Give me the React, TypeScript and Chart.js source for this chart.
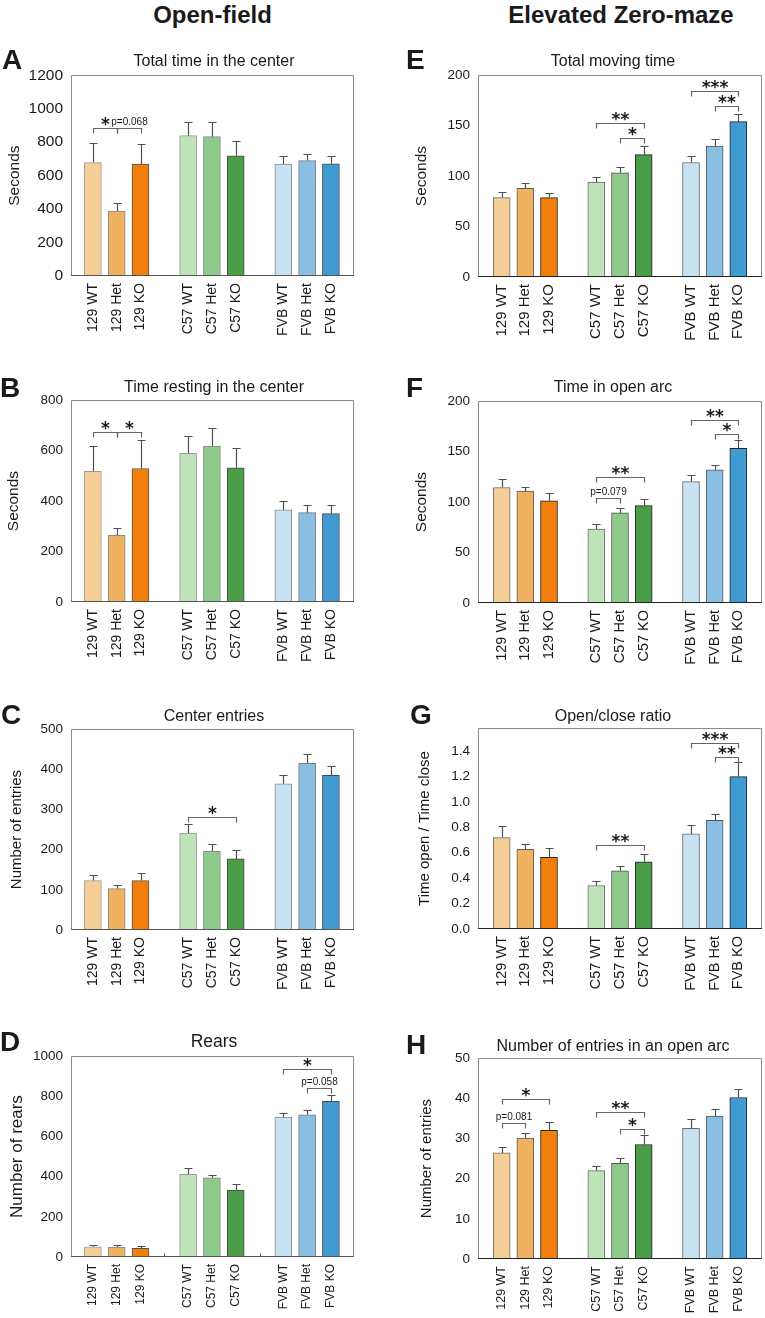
import React, { useEffect, useRef } from "react";
import { Chart, registerables } from "chart.js";
Chart.register(...registerables);

const FONT = "'Liberation Sans', Arial, Helvetica, sans-serif";
const STAR_FONT = "'DejaVu Sans', sans-serif";
const TEXT = "#1a1a1a";

// ---------- shared categories ----------
const CATEGORIES = ["129 WT", "129 Het", "129 KO", "C57 WT", "C57 Het", "C57 KO", "FVB WT", "FVB Het", "FVB KO"];
const SLOTS = [0, 1, 2, 4, 5, 6, 8, 9, 10];
const GAP_SLOTS = [3, 7];
const BAR_COLORS = ["#F5CD97", "#F0B160", "#F27F0C", "#BFE3B9", "#8DCA8B", "#4B9D48", "#C7E2F2", "#88BFE2", "#3F9BD1"];
const BAR_BORDERS_LEFT = ["#9a9a9a", "#8a8a8a", "#555555", "#9a9a9a", "#8a8a8a", "#4a4a4a", "#8a8a8a", "#7a7a7a", "#4a4a4a"];
const BAR_BORDERS_RIGHT = ["#6a6a6a", "#5a5a5a", "#222222", "#6a6a6a", "#555555", "#222222", "#6a6a6a", "#555555", "#222222"];

// ---------- Panel A: Total time in the center ----------
const A_MEAN = [678, 388, 669, 839, 833, 719, 669, 690, 671];
const A_ERR = [796, 437, 792, 922, 922, 810, 719, 731, 718];
const A_TICKS = [0, 200, 400, 600, 800, 1000, 1200];
const A_SIG = [
  { a: 0, b: 1, y: 882, t: "*" },
  { a: 1, b: 2, y: 882, t: "p=0.068" },
];

// ---------- Panel B: Time resting in the center ----------
const B_MEAN = [518, 264, 529, 589, 618, 532, 365, 354, 350];
const B_ERR = [618, 295, 642, 658, 691, 609, 401, 386, 386];
const B_TICKS = [0, 200, 400, 600, 800];
const B_SIG = [
  { a: 0, b: 1, y: 672, t: "*" },
  { a: 1, b: 2, y: 672, t: "*" },
];

// ---------- Panel C: Center entries ----------
const C_MEAN = [123, 103, 123, 241, 196, 177, 364, 415, 385];
const C_ERR = [138, 113, 142, 265, 214, 199, 387, 439, 408];
const C_TICKS = [0, 100, 200, 300, 400, 500];
const C_SIG = [{ a: 3, b: 5, y: 281, t: "*" }];

// ---------- Panel D: Rears ----------
const D_MEAN = [51, 50, 43, 412, 394, 333, 696, 708, 775];
const D_ERR = [62, 59, 54, 442, 410, 361, 715, 731, 806];
const D_TICKS = [0, 200, 400, 600, 800, 1000];
const D_SIG = [
  { a: 6, b: 8, y: 935, t: "*" },
  { a: 7, b: 8, y: 839, t: "p=0.058" },
];

// ---------- Panel E: Total moving time ----------
const E_MEAN = [78.7, 87.9, 78.7, 94.1, 103.2, 121.3, 113.4, 129.7, 153.9];
const E_ERR = [84.3, 92.8, 83.7, 98.7, 109.1, 129.7, 120.3, 136.6, 161.8];
const E_TICKS = [0, 50, 100, 150, 200];
const E_SIG = [
  { a: 3, b: 5, y: 152.6, t: "**" },
  { a: 4, b: 5, y: 137.3, t: "*" },
  { a: 6, b: 8, y: 184, t: "***" },
  { a: 7, b: 8, y: 169, t: "**" },
];

// ---------- Panel F: Time in open arc ----------
const F_MEAN = [114.4, 110.8, 101.3, 73.2, 89.2, 96.4, 120.3, 132, 153.2];
const F_ERR = [122.8, 115.4, 109.1, 78.7, 94.4, 103.2, 126.5, 136.6, 161.5];
const F_TICKS = [0, 50, 100, 150, 200];
const F_SIG = [
  { a: 3, b: 5, y: 124.8, t: "**" },
  { a: 3, b: 4, y: 103.9, t: "p=0.079" },
  { a: 6, b: 8, y: 181.7, t: "**" },
  { a: 7, b: 8, y: 167.9, t: "*" },
];

// ---------- Panel G: Open/close ratio ----------
const G_MEAN = [0.719, 0.626, 0.564, 0.342, 0.458, 0.528, 0.748, 0.854, 1.198];
const G_ERR = [0.807, 0.668, 0.639, 0.38, 0.494, 0.587, 0.815, 0.906, 1.315];
const G_TICKS = [0, 0.2, 0.4, 0.6, 0.8, 1.0, 1.2, 1.4];
const G_SIG = [
  { a: 3, b: 5, y: 0.66, t: "**" },
  { a: 6, b: 8, y: 1.465, t: "***" },
  { a: 7, b: 8, y: 1.351, t: "**" },
];

// ---------- Panel H: Number of entries in an open arc ----------
const H_MEAN = [26.4, 30.1, 32.0, 22.0, 23.8, 28.5, 32.5, 35.6, 40.2];
const H_ERR = [27.95, 31.3, 34.0, 23.2, 25.2, 30.8, 34.9, 37.4, 42.4];
const H_TICKS = [0, 10, 20, 30, 40, 50];
const H_SIG = [
  { a: 0, b: 2, y: 39.7, t: "*" },
  { a: 0, b: 1, y: 33.8, t: "p=0.081" },
  { a: 3, b: 5, y: 36.5, t: "**" },
  { a: 4, b: 5, y: 32.3, t: "*" },
];

type Sig = { a: number; b: number; y: number; t: string };
type Spec = {
  letter: string; title: string; yTitle: string;
  mean: number[]; err: number[]; ticks: number[]; yMax: number; sig: Sig[];
  col: 0 | 1; plotTop: number; plotBottom: number;
  tickFont: number; xFont: number; yTitleFont: number; titleFont: number;
  titleBaseline: number; letterBaseline: number; letterX: number; yTitleCenter: number;
  decimals: number; gapTicks?: boolean;
};

const COLS = [
  { left: 0, width: 380, axisW: 71, padRight: 26, xMin: -0.92, xMax: 10.97, titleCenter: 214, borders: BAR_BORDERS_LEFT, axisColor: "#555" },
  { left: 380, width: 385, axisW: 98, padRight: 3, xMin: -1, xMax: 11, titleCenter: 613, borders: BAR_BORDERS_RIGHT, axisColor: "#222" },
];
const PAD_TOP = 14;
const X_H = 72;

const PANELS: Spec[] = [
  { letter: "A", title: "Total time in the center", yTitle: "Seconds", mean: A_MEAN, err: A_ERR, ticks: A_TICKS, yMax: 1200, sig: A_SIG, col: 0, plotTop: 72, plotBottom: 276, tickFont: 15.5, xFont: 14, yTitleFont: 15.5, titleFont: 16, titleBaseline: 66.5, letterBaseline: 70, letterX: 2, yTitleCenter: 15, decimals: 0 },
  { letter: "B", title: "Time resting in the center", yTitle: "Seconds", mean: B_MEAN, err: B_ERR, ticks: B_TICKS, yMax: 800, sig: B_SIG, col: 0, plotTop: 398, plotBottom: 602, tickFont: 13.5, xFont: 14, yTitleFont: 15.5, titleFont: 16, titleBaseline: 393, letterBaseline: 398, letterX: 0, yTitleCenter: 14, decimals: 0 },
  { letter: "C", title: "Center entries", yTitle: "Number of entries", mean: C_MEAN, err: C_ERR, ticks: C_TICKS, yMax: 500, sig: C_SIG, col: 0, plotTop: 727, plotBottom: 930, tickFont: 13.5, xFont: 14, yTitleFont: 15, titleFont: 16, titleBaseline: 722, letterBaseline: 725, letterX: 1, yTitleCenter: 16.5, decimals: 0 },
  { letter: "D", title: "Rears", yTitle: "Number of rears", mean: D_MEAN, err: D_ERR, ticks: D_TICKS, yMax: 1000, sig: D_SIG, col: 0, plotTop: 1054, plotBottom: 1257, tickFont: 13.5, xFont: 12, yTitleFont: 17, titleFont: 17.5, titleBaseline: 1048, letterBaseline: 1052, letterX: 0, yTitleCenter: 17.5, decimals: 0, gapTicks: true },
  { letter: "E", title: "Total moving time", yTitle: "Seconds", mean: E_MEAN, err: E_ERR, ticks: E_TICKS, yMax: 200, sig: E_SIG, col: 1, plotTop: 73, plotBottom: 277, tickFont: 13.5, xFont: 15, yTitleFont: 15.5, titleFont: 16, titleBaseline: 67, letterBaseline: 70, letterX: 406, yTitleCenter: 421.5, decimals: 0 },
  { letter: "F", title: "Time in open arc", yTitle: "Seconds", mean: F_MEAN, err: F_ERR, ticks: F_TICKS, yMax: 200, sig: F_SIG, col: 1, plotTop: 399, plotBottom: 603, tickFont: 13.5, xFont: 14.5, yTitleFont: 15.5, titleFont: 16, titleBaseline: 393, letterBaseline: 398, letterX: 406, yTitleCenter: 421.5, decimals: 0 },
  { letter: "G", title: "Open/close ratio", yTitle: "Time open / Time close", mean: G_MEAN, err: G_ERR, ticks: G_TICKS, yMax: 1.58, sig: G_SIG, col: 1, plotTop: 726, plotBottom: 929, tickFont: 13.5, xFont: 14.5, yTitleFont: 15, titleFont: 16, titleBaseline: 722, letterBaseline: 725, letterX: 410, yTitleCenter: 424.5, decimals: 1 },
  { letter: "H", title: "Number of entries in an open arc", yTitle: "Number of entries", mean: H_MEAN, err: H_ERR, ticks: H_TICKS, yMax: 50, sig: H_SIG, col: 1, plotTop: 1056, plotBottom: 1259, tickFont: 13.5, xFont: 12.5, yTitleFont: 15, titleFont: 16, titleBaseline: 1052, letterBaseline: 1055, letterX: 406, yTitleCenter: 426.5, decimals: 0 },
];

function makeAnnotPlugin(spec: Spec) {
  const col = COLS[spec.col];
  return {
    id: "annot",
    afterDatasetsDraw(chart: any) {
      const { ctx, chartArea: ca } = chart;
      const x = chart.scales.x;
      const y = chart.scales.y;
      ctx.save();
      // error bars
      ctx.strokeStyle = "#505050";
      ctx.lineWidth = 1.2;
      spec.err.forEach((e, i) => {
        const px = Math.round(x.getPixelForValue(SLOTS[i])) + 0.5;
        const y0 = y.getPixelForValue(spec.mean[i]);
        const y1 = Math.round(y.getPixelForValue(e)) + 0.5;
        ctx.beginPath();
        ctx.moveTo(px, y0);
        ctx.lineTo(px, y1);
        ctx.moveTo(px - 4, y1);
        ctx.lineTo(px + 4, y1);
        ctx.stroke();
      });
      // frame
      const L = Math.round(ca.left) + 0.5;
      const R = Math.round(ca.right) - 0.5;
      const T = Math.round(ca.top) + 0.5;
      const B = Math.round(ca.bottom) - 0.5;
      ctx.lineWidth = 1;
      ctx.strokeStyle = "#8a8a8a";
      ctx.beginPath();
      ctx.moveTo(L, B);
      ctx.lineTo(L, T);
      ctx.lineTo(R, T);
      ctx.lineTo(R, B);
      ctx.stroke();
      ctx.strokeStyle = col.axisColor;
      ctx.lineWidth = 1.2;
      ctx.beginPath();
      ctx.moveTo(L - 0.5, B);
      ctx.lineTo(R + 0.5, B);
      ctx.stroke();
      if (spec.gapTicks) {
        ctx.lineWidth = 1;
        GAP_SLOTS.forEach((g) => {
          const gx = Math.round(x.getPixelForValue(g)) + 0.5;
          ctx.beginPath();
          ctx.moveTo(gx, B);
          ctx.lineTo(gx, B - 3);
          ctx.stroke();
        });
      }
      // significance brackets
      spec.sig.forEach((s) => {
        const x1 = Math.round(x.getPixelForValue(SLOTS[s.a])) + 0.5;
        const x2 = Math.round(x.getPixelForValue(SLOTS[s.b])) + 0.5;
        const yy = Math.round(y.getPixelForValue(s.y)) + 0.5;
        ctx.strokeStyle = "#666";
        ctx.lineWidth = 1.2;
        ctx.beginPath();
        ctx.moveTo(x1, yy + 5);
        ctx.lineTo(x1, yy);
        ctx.lineTo(x2, yy);
        ctx.lineTo(x2, yy + 5);
        ctx.stroke();
        const isStar = /^\*+$/.test(s.t);
        ctx.font = isStar ? `bold 17px ${STAR_FONT}` : `10px ${FONT}`;
        ctx.fillStyle = TEXT;
        ctx.textAlign = "center";
        ctx.textBaseline = "alphabetic";
        const m = ctx.measureText(s.t);
        const gap = isStar ? 2.5 : 1.5;
        const baseY = yy - gap - m.actualBoundingBoxDescent;
        ctx.fillText(s.t, (x1 + x2) / 2, baseY);
      });
      ctx.restore();
    },
  };
}

function makeConfig(spec: Spec): any {
  const col = COLS[spec.col];
  return {
    type: "bar",
    data: {
      datasets: [
        {
          data: spec.mean.map((v, i) => ({ x: SLOTS[i], y: v })),
          backgroundColor: BAR_COLORS,
          borderColor: col.borders,
          borderWidth: 1,
          barThickness: 17,
        },
      ],
    },
    options: {
      animation: false,
      responsive: false,
      maintainAspectRatio: false,
      devicePixelRatio: 1,
      layout: { padding: { top: PAD_TOP, right: col.padRight, left: 0, bottom: 0 } },
      plugins: { legend: { display: false }, tooltip: { enabled: false }, title: { display: false } },
      scales: {
        x: {
          type: "linear",
          offset: false,
          min: col.xMin,
          max: col.xMax,
          afterBuildTicks: (s: any) => {
            s.ticks = SLOTS.map((v) => ({ value: v }));
          },
          afterFit: (s: any) => {
            s.height = X_H;
          },
          grid: { display: false, drawTicks: false },
          border: { display: false },
          ticks: {
            autoSkip: false,
            maxRotation: 90,
            minRotation: 90,
            padding: 7,
            color: TEXT,
            font: { family: FONT, size: spec.xFont },
            callback: (v: number) => {
              const i = SLOTS.indexOf(v);
              return i >= 0 ? CATEGORIES[i] : "";
            },
          },
        },
        y: {
          type: "linear",
          min: 0,
          max: spec.yMax,
          afterBuildTicks: (s: any) => {
            s.ticks = spec.ticks.map((v) => ({ value: v }));
          },
          afterFit: (s: any) => {
            s.width = col.axisW;
          },
          grid: { display: false, drawTicks: false },
          border: { display: false },
          ticks: {
            padding: 8,
            color: TEXT,
            font: { family: FONT, size: spec.tickFont },
            callback: (v: number) => v.toFixed(spec.decimals),
          },
          title: {
            display: true,
            text: spec.yTitle,
            color: TEXT,
            font: { family: FONT, size: spec.yTitleFont },
            padding: { top: spec.yTitleCenter - col.left - spec.yTitleFont * 0.6, bottom: 0 },
          },
        },
      },
    },
    plugins: [makeAnnotPlugin(spec)],
  };
}

function Panel({ spec }: { spec: Spec }) {
  const ref = useRef<HTMLCanvasElement>(null);
  const col = COLS[spec.col];
  const top = spec.plotTop - PAD_TOP;
  const height = spec.plotBottom - spec.plotTop + PAD_TOP + X_H;
  useEffect(() => {
    const chart = new Chart(ref.current as HTMLCanvasElement, makeConfig(spec));
    return () => chart.destroy();
  }, []);
  return (
    <canvas
      ref={ref}
      width={col.width}
      height={height}
      style={{ position: "absolute", left: col.left, top, width: col.width, height }}
    />
  );
}

function Text({ text, baseline, size, bold, left, center }: { text: string; baseline: number; size: number; bold?: boolean; left?: number; center?: number }) {
  const style: any = {
    position: "absolute",
    top: baseline - 0.8465 * size,
    fontFamily: FONT,
    fontSize: size,
    lineHeight: `${size}px`,
    fontWeight: bold ? "bold" : "normal",
    color: TEXT,
    whiteSpace: "nowrap",
  };
  if (center !== undefined) {
    style.left = center - 200;
    style.width = 400;
    style.textAlign = "center";
  } else {
    style.left = left;
  }
  return <div style={style}>{text}</div>;
}

export default function App() {
  return (
    <div style={{ position: "absolute", left: 0, top: 0, width: 765, height: 1318, background: "#fff", overflow: "hidden" }}>
      <Text text="Open-field" baseline={23.3} size={24} bold center={212.5} />
      <Text text="Elevated Zero-maze" baseline={23.3} size={24} bold center={621} />
      {PANELS.map((p) => (
        <React.Fragment key={p.letter}>
          <Panel spec={p} />
          <Text text={p.letter} baseline={p.letterBaseline} size={28} bold left={p.letterX} />
          <Text text={p.title} baseline={p.titleBaseline} size={p.titleFont} center={COLS[p.col].titleCenter} />
        </React.Fragment>
      ))}
    </div>
  );
}
